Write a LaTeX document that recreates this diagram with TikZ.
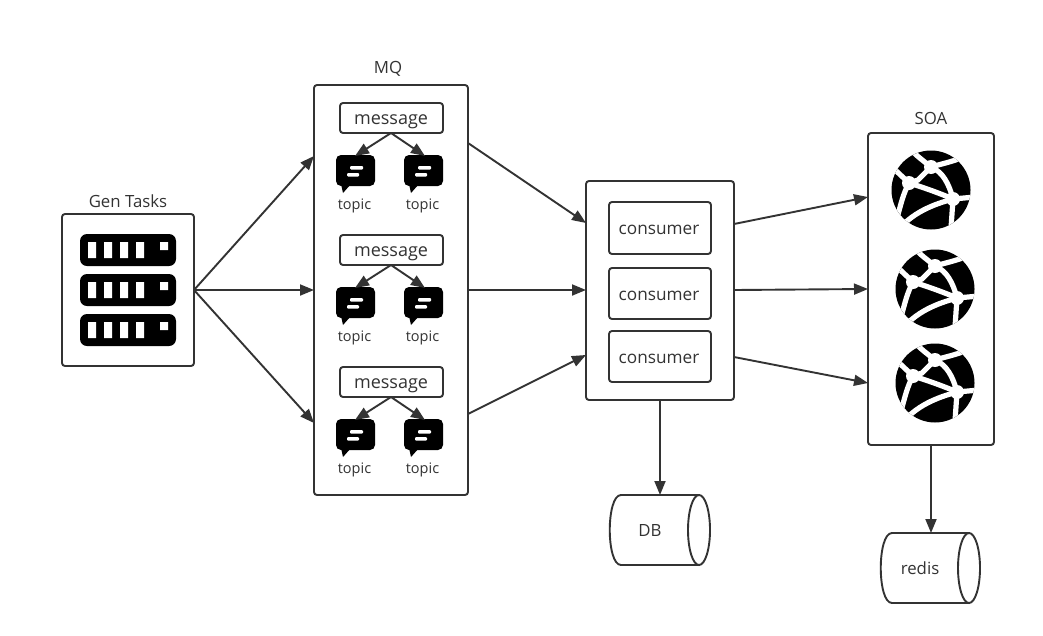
\documentclass[tikz,border=0pt]{standalone}
\usepackage{fontspec}
\setmainfont{Open Sans}
\usetikzlibrary{arrows.meta,calc}
\definecolor{ink}{HTML}{333333}
\tikzset{
  x=1pt,y=-1pt,
  conn/.style={draw=ink,line width=1.9pt,-{Triangle[length=14pt,width=11pt]}},
  box/.style={draw=ink,line width=1.9pt,rounded corners=3pt,fill=white},
  lbl/.style={text=ink,font=\fontsize{#1}{#1}\selectfont,inner sep=0pt},
  lbl/.default=16.8,
  cyl/.style={draw=ink,line width=1.9pt,fill=white},
  globe/.pic={
    \fill[black] (0,0) circle[radius=39.5];
    \begin{scope}[white,line width=5.2pt,line cap=round]
      \clip (0,0) circle[radius=39.5];
      \draw (0,-23) .. controls (-6,-28) and (-12,-32) .. (-20,-40);
      \draw (0,-23) .. controls (10,-26) and (20,-28) .. (30,-32);
      \draw (0,-23) -- (-13,-10) -- (-22,-7);
      \draw (0,-23) .. controls (12,-18) and (18,-6) .. (22,9);
      \draw (-22,-7) -- (-40,-24);
      \draw (-22,-7) .. controls (-28,4) and (-30,14) .. (-34,28);
      \draw (-22,-7) .. controls (-6,-2) and (8,3) .. (22,9);
      \draw (22,9) -- (44,7);
      \draw (22,9) .. controls (4,14) and (-20,22) .. (-36,44);
      \draw (22,9) -- (20,38);
    \end{scope}
    \fill[white] (0,-23) circle[radius=7] (-22,-7) circle[radius=7] (22,9) circle[radius=7];
  },
  chat/.pic={
    \fill[black,rounded corners=5pt] (0,0) rectangle (39,31);
    \fill[black] (5,29) -- (7,38) -- (15,29) -- cycle;
    \fill[white,rounded corners=1pt] (14,11) rectangle (27,14.5) (11,18) rectangle (23,21.5);
  },
  rack/.pic={
    \fill[black,rounded corners=7pt] (0,0) rectangle (96,32);
    \fill[white] (8,8) rectangle (16,24) (24,8) rectangle (32,24) (40,8) rectangle (48,24) (56,8) rectangle (64,24) (80,8) rectangle (88,16);
  }
}
\begin{document}
\begin{tikzpicture}
\useasboundingbox (0,0) rectangle (1043,635);
% containers
\draw[box] (62,214) rectangle (194,366);
\draw[box] (314,85) rectangle (468,495);
\draw[box] (586,181) rectangle (734,400);
\draw[box] (868,133) rectangle (994,445);
% named ports
\coordinate (gen) at (194,290);
\coordinate (mq1) at (314,156);
\coordinate (mq2) at (314,290);
\coordinate (mq3) at (314,423);
\coordinate (mqo1) at (468,143);
\coordinate (mqo2) at (468,290);
\coordinate (mqo3) at (468,414);
\coordinate (coi1) at (586,223);
\coordinate (coi2) at (586,290);
\coordinate (coi3) at (586,355);
\coordinate (coo1) at (734,224);
\coordinate (coo2) at (734,290);
\coordinate (coo3) at (734,357);
\coordinate (so1) at (868,197);
\coordinate (so2) at (868,289);
\coordinate (so3) at (868,383);
\coordinate (cob) at (660,400);
\coordinate (db) at (660,495);
\coordinate (sob) at (931,445);
\coordinate (re) at (931,533);
% titles
\node[lbl] (tgen) at (128,201) {Gen Tasks};
\node[lbl] (tmq) at (388,69) {MQ};
\node[lbl] (tsoa) at (931,118) {SOA};
% racks
\pic at (80,234) {rack};
\pic at (80,274) {rack};
\pic at (80,314) {rack};
% MQ rows
\foreach \i/\y in {1/0,2/132,3/264}{
  \draw[box] (340,103+\y) rectangle (443,133+\y);
  \node[lbl=18] (m\i) at (391,122+\y) {message};
  \coordinate (ma\i) at (391,133+\y);
  \pic at (336,155+\y) {chat};
  \pic at (404,155+\y) {chat};
  \coordinate (tl\i) at (355,156+\y);
  \coordinate (tr\i) at (425,156+\y);
  \draw[conn] (ma\i) -- (tl\i);
  \draw[conn] (ma\i) -- (tr\i);
  \node[lbl=14.5] (ta\i) at (354.5,206+\y) {topic};
  \node[lbl=14.5] (tb\i) at (422.5,206+\y) {topic};
}
% consumers
\draw[box] (609,202) rectangle (711,254);
\draw[box] (609,268) rectangle (711,319);
\draw[box] (609,331) rectangle (711,382);
\node[lbl=17.2] (c1) at (659,230) {consumer};
\node[lbl=17.2] (c2) at (659,296) {consumer};
\node[lbl=17.2] (c3) at (659,359) {consumer};
% globes
\pic at (931,190) {globe};
\pic at (935,289) {globe};
\pic at (935,383) {globe};
% cylinders
\draw[cyl] (699,495) -- (621,495) .. controls (606,495) and (606,565) .. (621,565) -- (699,565);
\draw[cyl] (699,530) ellipse[x radius=11,y radius=35];
\node[lbl] (tdb) at (650,530) {DB};
\draw[cyl] (969,533) -- (892,533) .. controls (877,533) and (877,603) .. (892,603) -- (969,603);
\draw[cyl] (969,568) ellipse[x radius=11,y radius=35];
\node[lbl] (tre) at (920,568) {redis};
% connectors
\draw[conn] (gen) -- (mq1);
\draw[conn] (gen) -- (mq2);
\draw[conn] (gen) -- (mq3);
\draw[conn] (mqo1) -- (coi1);
\draw[conn] (mqo2) -- (coi2);
\draw[conn] (mqo3) -- (coi3);
\draw[conn] (coo1) -- (so1);
\draw[conn] (coo2) -- (so2);
\draw[conn] (coo3) -- (so3);
\draw[conn] (cob) -- (db);
\draw[conn] (sob) -- (re);
\end{tikzpicture}
\end{document}
